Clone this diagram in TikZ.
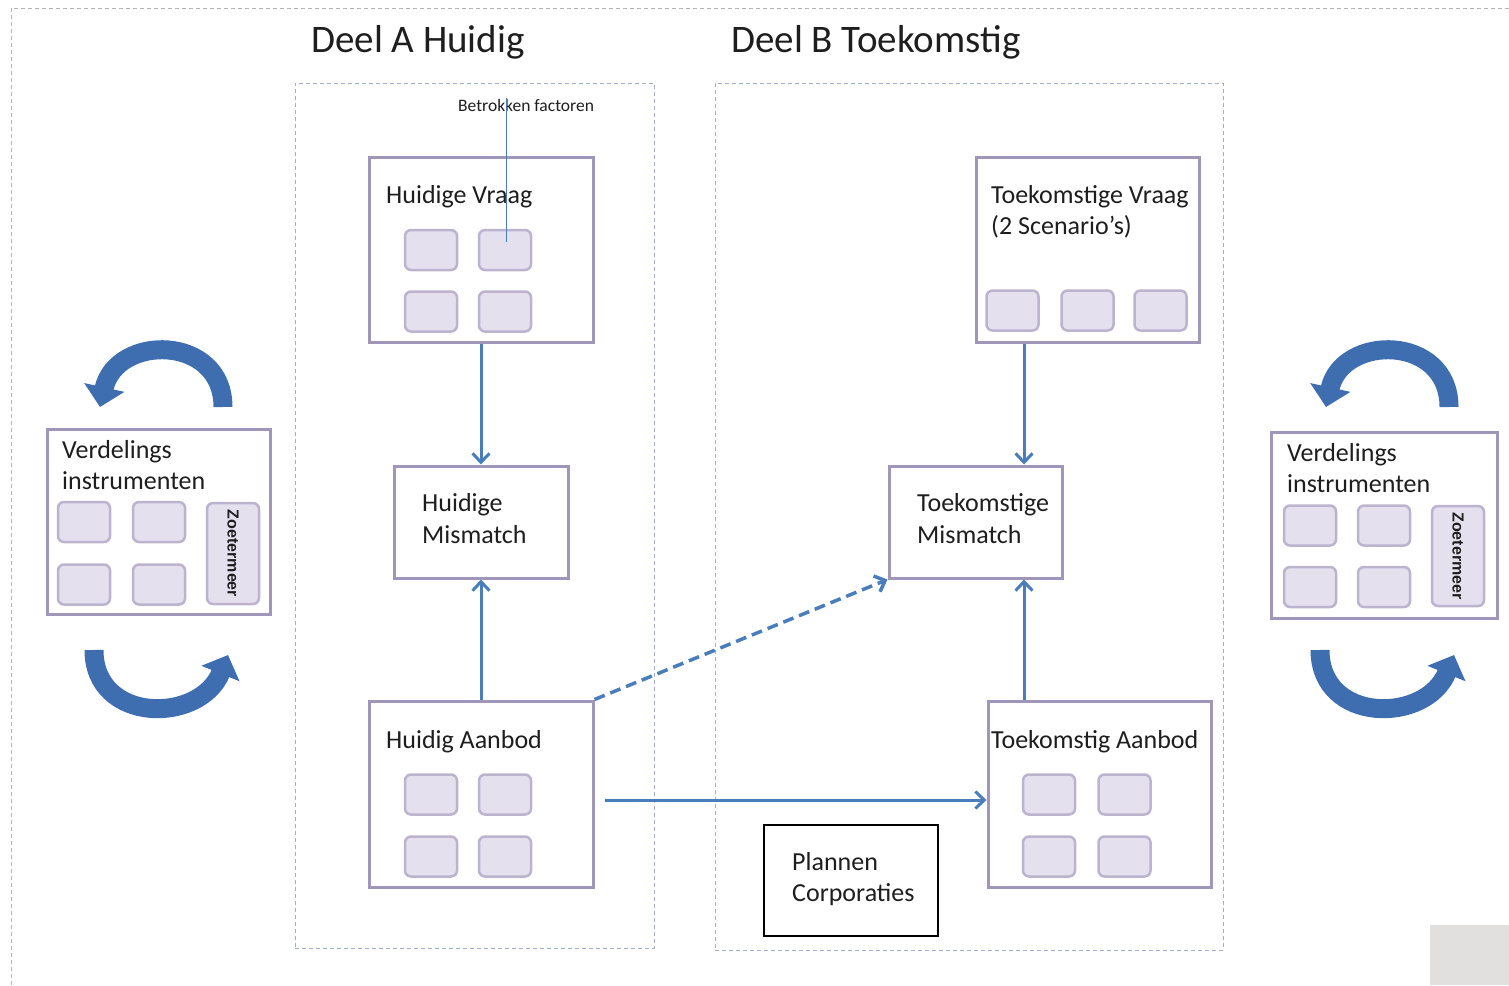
\documentclass[tikz,border=0pt]{standalone}
\usepackage{fontspec}
\setmainfont{Carlito}
\newfontfamily\arialf{Liberation Sans}
\usetikzlibrary{arrows.meta}
\definecolor{boxc}{RGB}{160,150,185}
\definecolor{smallfill}{RGB}{228,224,238}
\definecolor{smalldraw}{RGB}{188,180,207}
\definecolor{connc}{RGB}{74,126,187}
\definecolor{dashc}{RGB}{165,172,205}
\definecolor{outerc}{RGB}{180,180,180}
\definecolor{curvec}{RGB}{62,110,175}
\definecolor{txt}{RGB}{30,30,30}
\definecolor{cornerc}{RGB}{226,223,223}
\begin{document}
\begin{tikzpicture}[x=1pt,y=-1pt,
  bigbox/.style={draw=boxc, line width=3pt, fill=white, inner sep=0pt},
  smallbox/.style={draw=smalldraw, fill=smallfill, line width=2.5pt, rounded corners=6pt, inner sep=0pt, minimum width=52pt, minimum height=40pt},
  lbl/.style={anchor=base west, inner sep=0pt, font=\fontsize{26}{31}\selectfont, text=txt},
  titlelbl/.style={anchor=base west, inner sep=0pt, font=\fontsize{39}{46}\selectfont, text=txt},
  arrowc/.style={draw=connc, line width=3pt, -{Straight Barb[length=9pt,width=17pt]}},
  region/.style={draw=dashc, line width=1pt, dash pattern=on 4pt off 3pt, inner sep=0pt},
  curvearrow/.style={draw=curvec, line width=19pt, -{Triangle[length=20pt,width=40pt]}}
]
\useasboundingbox (0,0) rectangle (1509,985);
% outer dashed frame
\draw[draw=outerc, line width=1pt, dash pattern=on 4pt off 3pt] (11,985) -- (11,8) -- (1509,8);
\fill[cornerc] (1430,925) rectangle (1509,985);

% regions
\node[region, minimum width=359pt, minimum height=865pt] (regA) at (474.5,515.5) {};
\node[region, minimum width=508pt, minimum height=867pt] (regB) at (969,516.5) {};

% titles
\node[titlelbl] (tA) at (311,52) {Deel A Huidig};
\node[titlelbl] (tB) at (731,52) {Deel B Toekomstig};

% big boxes
\node[bigbox, minimum width=224pt, minimum height=185pt] (hv) at (481,249.5) {};
\node[bigbox, minimum width=174pt, minimum height=112pt] (hm) at (481,522) {};
\node[bigbox, minimum width=224pt, minimum height=186pt] (ha) at (481,794) {};
\node[bigbox, minimum width=223pt, minimum height=185pt] (tv) at (1087.5,249.5) {};
\node[bigbox, minimum width=173pt, minimum height=112pt] (tm) at (975.5,522) {};
\node[bigbox, minimum width=223pt, minimum height=186pt] (ta) at (1099.5,794) {};
\node[draw=black, line width=2.5pt, fill=white, inner sep=0pt, minimum width=174pt, minimum height=111pt] (pc) at (851,880.5) {};
\node[bigbox, minimum width=223pt, minimum height=185pt] (vl) at (158.5,521.5) {};
\node[bigbox, minimum width=226pt, minimum height=186pt] (vr) at (1384,525) {};

% small boxes
\foreach \n/\x/\y in {a1/431/250, a2/505/250, a3/431/311.5, a4/505/311.5,
                      b1/431/794.5, b2/505/794.5, b3/431/856.5, b4/505/856.5,
                      c1/1012.5/310.5, c2/1087.5/310.5, c3/1160.5/310.5,
                      d1/1049/794.5, d2/1124.5/794.5, d3/1049/856.5, d4/1124.5/856.5,
                      e1/84/522, e2/159/522, e3/84/584.5, e4/159/584.5,
                      f1/1310/525.5, f2/1384/525.5, f3/1310/587, f4/1384/587}
  \node[smallbox] (\n) at (\x,\y) {};
\node[smallbox, minimum height=101pt, font=\arialf\bfseries\fontsize{16}{18}\selectfont, text=txt] (z1) at (233,553.5) {\rotatebox{-90}{Zoetermeer}};
\node[smallbox, minimum height=100pt, font=\arialf\bfseries\fontsize{16}{18}\selectfont, text=txt] (z2) at (1458,556) {\rotatebox{-90}{Zoetermeer}};

% labels
\node[lbl] (l1) at (386,203) {Huidige Vraag};
\node[lbl] (l2) at (422,511) {Huidige};
\node[lbl] (l3) at (422,543) {Mismatch};
\node[lbl] (l4) at (386,748) {Huidig Aanbod};
\node[lbl] (l5) at (991,203) {Toekomstige Vraag};
\node[lbl] (l6) at (991,234) {(2 Scenario’s)};
\node[lbl] (l7) at (917,511) {Toekomstige};
\node[lbl] (l8) at (917,543) {Mismatch};
\node[lbl] (l9) at (991,748) {Toekomstig Aanbod};
\node[lbl] (l10) at (792,870) {Plannen};
\node[lbl] (l11) at (792,901) {Corporaties};
\node[lbl] (l12) at (62,458) {Verdelings};
\node[lbl] (l13) at (62,489) {instrumenten};
\node[lbl] (l14) at (1287,461) {Verdelings};
\node[lbl] (l15) at (1287,492) {instrumenten};
\node[anchor=base west, inner sep=0pt, font=\fontsize{17.5}{20}\selectfont, text=txt] (bf) at (458,111) {Betrokken factoren};

% Betrokken factoren pointer
\coordinate (bfa) at (506,98);
\coordinate (bfb) at (506,242);
\draw[draw=connc, line width=1pt] (bfa) -- (bfb);

% connectors
\coordinate (xr) at (1024,0);
\draw[arrowc] (hv.south) -- (hm.north);
\draw[arrowc] (ha.north) -- (hm.south);
\draw[arrowc] (tv.south -| xr) -- (tm.north -| xr);
\draw[arrowc] (ta.north -| xr) -- (tm.south -| xr);
\coordinate (hs) at (605,800);
\draw[arrowc] (hs) -- (ta.west |- hs);
\draw[arrowc, line width=3.5pt, dash pattern=on 11pt off 6pt] (ha.north east) -- (tm.south west);

% curved arrows
\draw[curvearrow] (223,407) .. controls (223,334) and (116,334) .. (100,407);
\draw[curvearrow] (94,650) .. controls (94,724) and (200,724) .. (228,655);
\draw[curvearrow] (1449,407) .. controls (1449,334) and (1342,334) .. (1326,407);
\draw[curvearrow] (1320,650) .. controls (1320,724) and (1426,724) .. (1454,655);
\end{tikzpicture}
\end{document}
